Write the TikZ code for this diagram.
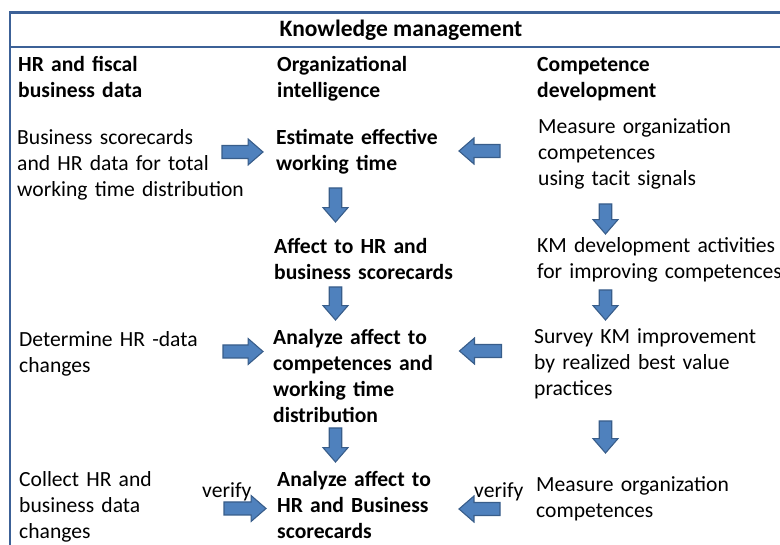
\documentclass[tikz,border=0pt]{standalone}
\usepackage{fontspec}
\setmainfont{Carlito}
\definecolor{frameblue}{HTML}{3C6197}
\definecolor{arrowfill}{HTML}{4F81BD}
\definecolor{arrowdraw}{HTML}{385D8A}
\tikzset{
  txt/.style={anchor=base west, inner sep=0pt, text width=320pt, align=left,
    font=\fontsize{21.6}{25.9}\selectfont},
  hdr/.style={txt, font=\fontsize{21.6}{25.9}\selectfont\bfseries},
  arrowbody/.style={draw=arrowdraw, fill=arrowfill, line width=1.1pt, line join=miter},
  pics/barrow/.style 2 args={code={
    \draw[arrowbody] (-#1/2,-#2/2) -- (#1/2-#2*1.15,-#2/2) -- (#1/2-#2*1.15,-#2)
      -- (#1/2,0) -- (#1/2-#2*1.15,#2) -- (#1/2-#2*1.15,#2/2) -- (-#1/2,#2/2) -- cycle;}},
  framel/.style={draw=frameblue, line width=2.4pt},
}
\begin{document}
\begin{tikzpicture}[x=1pt,y=-1pt]
\useasboundingbox (0,0) rectangle (780,545);
% frame
\coordinate (tl) at (10,12.5);
\coordinate (tr) at (781,12.5);
\coordinate (ml) at (10,47);
\coordinate (mr) at (781,47);
\coordinate (bl) at (10,546);
\draw[framel] (tr) -- (tl) -- (bl);
\draw[framel] (ml) -- (mr);
% title
\node[anchor=base, inner sep=0pt, font=\fontsize{23.5}{26}\selectfont\bfseries] (title) at (401,37) {Knowledge management};
% headings
\node[hdr] (h1) at (18,71.7) {HR and fiscal\\business data};
\node[hdr] (h2) at (277,71.7) {Organizational\\intelligence};
\node[hdr] (h3) at (537,71.7) {Competence\\development};
% row 1
\node[txt] (l1) at (17,145) {Business scorecards\\and HR data for total\\working time distribution};
\node[hdr] (m1) at (276,145) {Estimate effective\\working time};
\node[txt] (r1) at (538,134) {Measure organization\\competences\\using tacit signals};
% row 2
\node[hdr] (m2) at (274,254) {Affect to HR and\\business scorecards};
\node[txt] (r2) at (537,253) {KM development activities\\for improving competences};
% row 3
\node[txt] (l3) at (19,347) {Determine HR -data\\changes};
\node[hdr] (m3) at (273,345) {Analyze affect to\\competences and\\working time\\distribution};
\node[txt] (r3) at (534,344) {Survey KM improvement\\by realized best value\\practices};
% row 4
\node[txt] (l4) at (19,487) {Collect HR and\\business data\\changes};
\node[hdr] (m4) at (277,487) {Analyze affect to\\HR and Business\\scorecards};
\node[txt] (r4) at (536,492) {Measure organization\\competences};
\node[txt, text width=60pt] (v1) at (202,497) {verify};
\node[txt, text width=60pt] (v2) at (474,498) {verify};
% block arrows
\pic (ar1) at (242.5,152) {barrow={41}{13}};
\pic[rotate=180] (al1) at (479.5,151) {barrow={41}{13}};
\pic (ar2) at (243,351.5) {barrow={40}{13}};
\pic[rotate=180] (al2) at (480.5,351) {barrow={42}{13}};
\pic (ar3) at (245,508.5) {barrow={42}{13}};
\pic[rotate=180] (al3) at (479.5,509) {barrow={41}{13}};
\pic[rotate=-90] (dm1) at (335.5,205) {barrow={34}{12.5}};
\pic[rotate=-90] (dm2) at (335.5,303.5) {barrow={33}{12.5}};
\pic[rotate=-90] (dm3) at (335.5,445) {barrow={34}{12.5}};
\pic[rotate=-90] (dr1) at (605.5,219) {barrow={30}{12.5}};
\pic[rotate=-90] (dr2) at (605.5,305) {barrow={30}{12.5}};
\pic[rotate=-90] (dr3) at (605.5,437) {barrow={32}{12.5}};
\end{tikzpicture}
\end{document}
